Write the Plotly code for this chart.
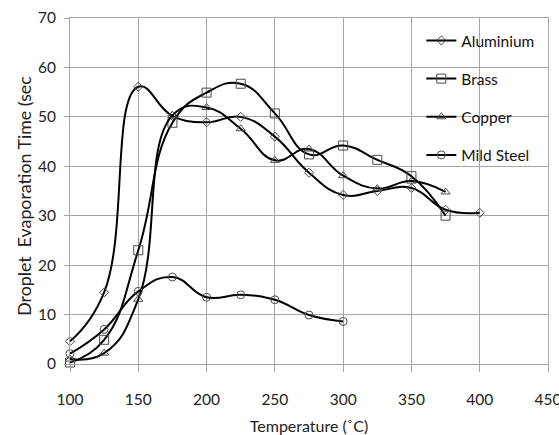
import plotly.graph_objects as go

temps = [100, 125, 150, 175, 200, 225, 250, 275, 300, 325, 350, 375, 400]

aluminium = [4.6, 14.5, 56.1, 50.2, 48.9, 50.0, 46.0, 38.7, 34.2, 35.0, 35.6, 31.2, 30.6]
brass = [0.3, 4.9, 23.0, 48.8, 54.9, 56.7, 50.7, 42.4, 44.2, 41.3, 38.0, 30.0]
copper = [1.0, 2.2, 13.1, 50.3, 51.9, 47.6, 41.2, 43.5, 38.1, 35.5, 37.0, 34.8]
mild_steel = [2.1, 7.0, 14.7, 17.6, 13.5, 14.0, 13.0, 9.9, 8.6]

series = [
    ("Aluminium", aluminium, "diamond-open", 7),
    ("Brass", brass, "square-open", 9),
    ("Copper", copper, "triangle-up-open", 8),
    ("Mild Steel", mild_steel, "circle-open", 8),
]

FONT = "Lato, Open Sans, sans-serif"

fig = go.Figure()
for name, vals, sym, sz in series:
    fig.add_trace(go.Scatter(
        x=temps[:len(vals)], y=vals, name=name,
        mode="lines+markers", cliponaxis=False,
        line=dict(color="black", width=2, shape="spline", smoothing=1.3),
        marker=dict(symbol=sym, size=sz, color="#4a4a4a",
                    line=dict(color="#4a4a4a", width=1)),
        legendgroup=name,
    ))

grid = "#a6a6a6"
fig.update_layout(
    width=559, height=435,
    margin=dict(l=69.5, r=10.6, t=18.3, b=70.5),
    paper_bgcolor="white", plot_bgcolor="white",
    font=dict(family=FONT, size=15.5, color="#222"),
    showlegend=True,
    legend=dict(x=0.735, y=0.983, xanchor="left", yanchor="top",
                bgcolor="rgba(0,0,0,0)", font=dict(size=15.5, color="#111"),
                tracegroupgap=15, itemwidth=30),
    xaxis=dict(range=[100, 450], dtick=50, tick0=100, automargin=False,
               showgrid=True, gridcolor=grid, gridwidth=1,
               showline=True, linecolor=grid, mirror=True,
               ticks="outside", ticklen=7, tickcolor=grid,
               ticklabelstandoff=14, ticklabeloverflow="allow",
               zeroline=False,
               title=dict(text="Temperature (˚C)", font=dict(size=16), standoff=14)),
    yaxis=dict(range=[0, 70], dtick=10, automargin=False,
               showgrid=True, gridcolor=grid, gridwidth=1,
               showline=True, linecolor=grid, mirror=True,
               ticks="outside", ticklen=5, tickcolor=grid,
               ticklabelstandoff=5,
               zeroline=False),
    annotations=[dict(
        text="Droplet  Evaporation Time (sec",
        xref="paper", yref="paper",
        x=-0.095, y=0.485, xanchor="center", yanchor="middle",
        textangle=-90, showarrow=False, font=dict(size=17.8, color="#222"),
    )],
)

fig.write_html("out.html")
